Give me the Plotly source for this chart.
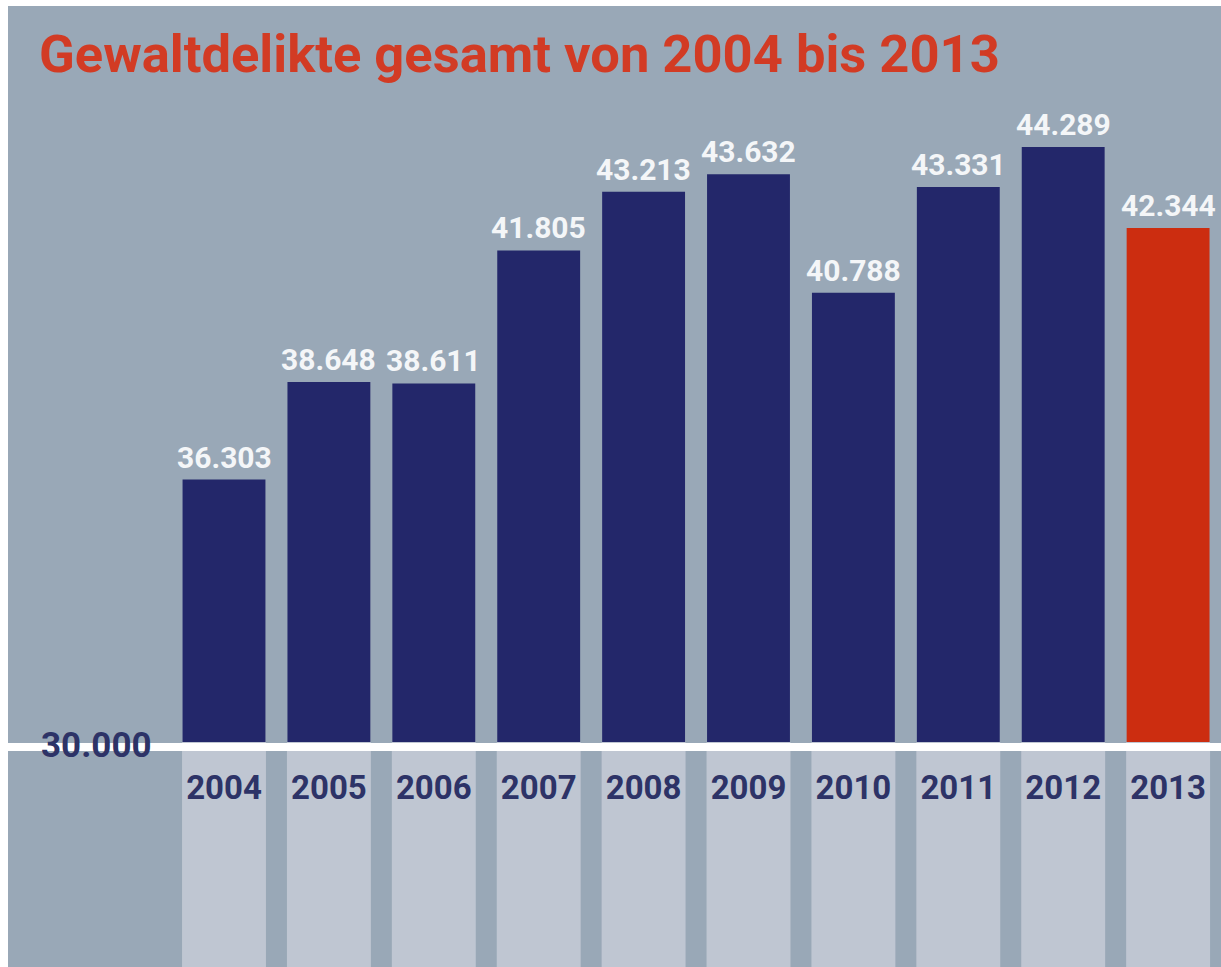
import plotly.graph_objects as go

# Gewaltdelikte pro Jahr
years = ["2004", "2005", "2006", "2007", "2008", "2009", "2010", "2011", "2012", "2013"]
values = [36303, 38648, 38611, 41805, 43213, 43632, 40788, 43331, 44289, 42344]
value_labels = ["36.303", "38.648", "38.611", "41.805", "43.213",
                "43.632", "40.788", "43.331", "44.289", "42.344"]
baseline = 30000
baseline_label = "30.000"
title_text = "Gewaltdelikte gesamt von 2004 bis 2013"

NAVY = "#23276a"
RED = "#cc2d10"
PANEL = "#99a8b7"
COLUMN = "#bfc6d2"
YEAR_COLOR = "#2d3367"

W, H = 1221, 967
ML, MT = 8, 6
PX_PER_UNIT = 0.04164          # vertical scale of the value axis
BASE_PX = 742                  # page row of the baseline
PITCH = 104.9                  # px between category centres
FIRST_PX = 224                 # centre of first column

def y_at(px):
    return baseline + (BASE_PX - px) / PX_PER_UNIT

x_idx = list(range(len(years)))
colors = [NAVY] * (len(years) - 1) + [RED]

fig = go.Figure()
fig.add_trace(go.Bar(
    x=x_idx,
    y=[v - baseline for v in values],
    base=baseline,
    width=0.79,
    marker=dict(color=colors, line=dict(width=0)),
    hoverinfo="skip",
))

# value labels above bars
for i, (v, lab) in enumerate(zip(values, value_labels)):
    fig.add_annotation(
        x=i, y=v, text=lab, showarrow=False, xanchor="center", yanchor="bottom",
        yshift=3, font=dict(family="Roboto", size=30, color="#f4f6f8", weight="bold"),
    )

# year labels in the columns below the baseline
fig.add_trace(go.Scatter(
    x=x_idx, y=[y_at(791)] * len(years), mode="text", text=years,
    textposition="middle center",
    textfont=dict(family="Roboto", size=33, color=YEAR_COLOR, weight="bold"),
    hoverinfo="skip",
))

shapes = []
for i in x_idx:
    shapes.append(dict(type="rect", xref="x", yref="y", layer="below",
                       x0=i - 0.40, x1=i + 0.40, y0=y_at(H + 5), y1=baseline,
                       fillcolor=COLUMN, line=dict(width=0)))
shapes.append(dict(type="rect", xref="paper", yref="y", layer="above",
                   x0=0, x1=1, y0=y_at(751), y1=y_at(743),
                   fillcolor="white", line=dict(width=0)))

fig.add_annotation(
    xref="paper", yref="y", x=(39 - ML) / (W - ML), y=y_at(745),
    text=baseline_label, showarrow=False, xanchor="left", yanchor="middle",
    font=dict(family="Roboto", size=35, color=YEAR_COLOR, weight="bold"),
)
fig.add_annotation(
    xref="paper", yref="paper", x=(37 - ML) / (W - ML), y=1 - (54 - MT) / (H - MT),
    text=title_text, showarrow=False, xanchor="left", yanchor="middle",
    font=dict(family="Roboto", size=52.5, color="#d23b24", weight="bold"),
)

fig.update_layout(
    width=W, height=H,
    margin=dict(l=ML, r=0, t=MT, b=0, pad=0),
    paper_bgcolor="white",
    plot_bgcolor=PANEL,
    showlegend=False,
    shapes=shapes,
    xaxis=dict(range=[(ML - FIRST_PX) / PITCH, (W - FIRST_PX) / PITCH],
               visible=False, fixedrange=True),
    yaxis=dict(range=[y_at(H), y_at(MT)], visible=False, fixedrange=True),
)

fig.write_html("out.html", config={"displayModeBar": False})
